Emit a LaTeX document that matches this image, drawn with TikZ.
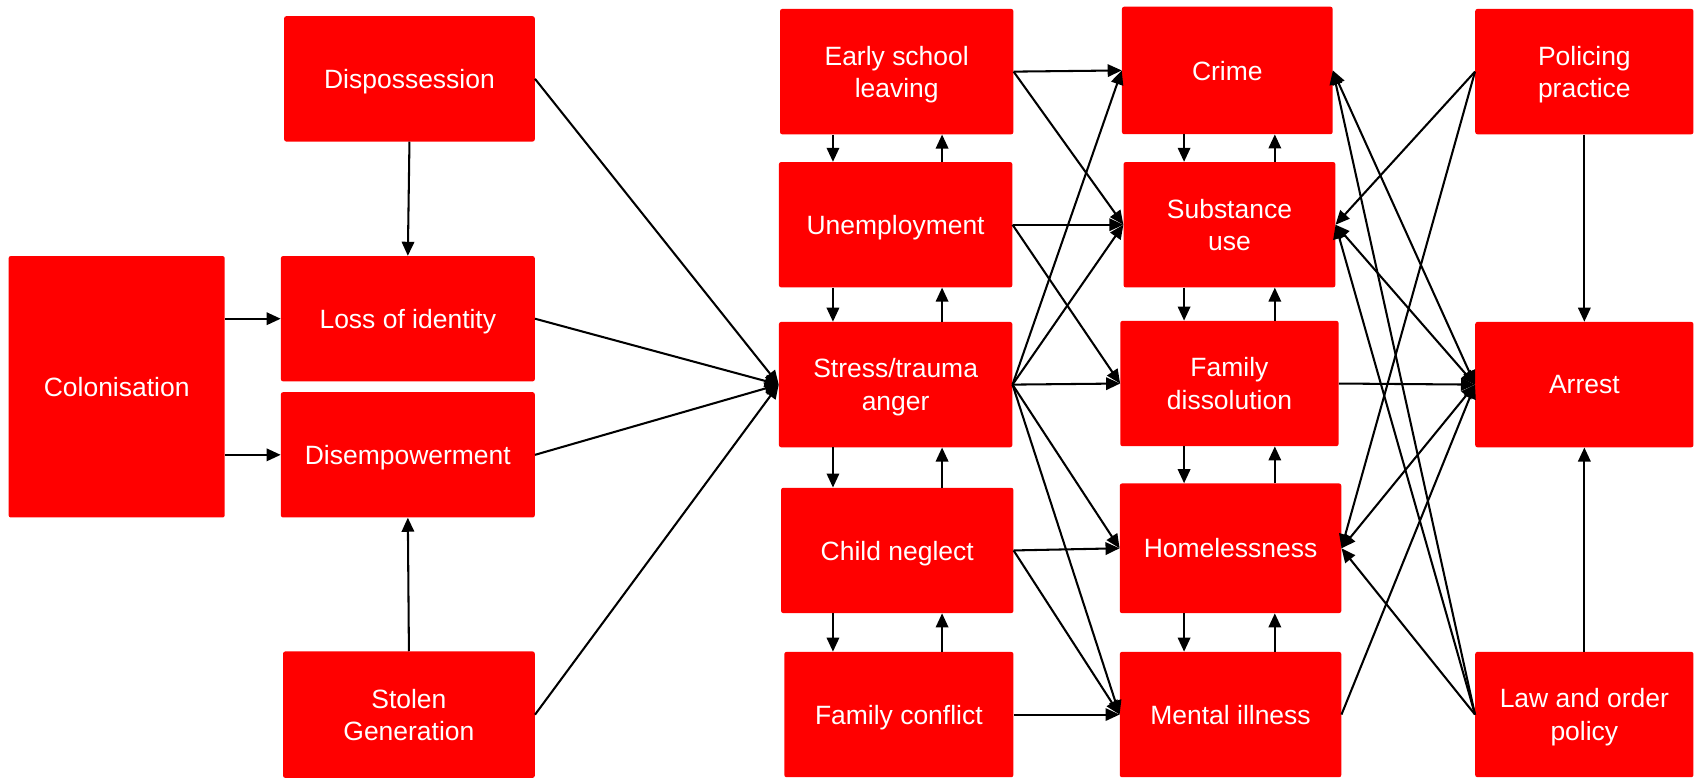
\documentclass[tikz,border=0pt]{standalone}
\usepackage{fontspec}
\setmainfont{Liberation Sans}
\usetikzlibrary{arrows.meta,calc}

\begin{document}
\begin{tikzpicture}[x=1pt,y=-1pt,
  box/.style={fill=red, draw=none, rounded corners=2pt, inner sep=0pt,
    text=white, align=center, text depth=0pt,
    font=\fontsize{24.5pt}{30pt}\selectfont},
  arr/.style={-{Triangle[length=13pt,width=11.5pt]}, line width=1.9pt},
  darr/.style={{Triangle[length=13pt,width=11.5pt]}-{Triangle[length=13pt,width=11.5pt]}, line width=1.9pt}]

\useasboundingbox (0,0) rectangle (1568,720);

% historical causes
\node[box, minimum width=200pt, minimum height=242pt] (colon) at (108,358) {Colonisation};
\node[box, minimum width=232pt, minimum height=116pt] (disp) at (379,73) {Dispossession};
\node[box, minimum width=235pt, minimum height=116pt] (loss) at (377.5,295) {Loss of identity};
\node[box, minimum width=235pt, minimum height=116pt] (disemp) at (377.5,421) {Disempowerment};
\node[box, minimum width=233pt, minimum height=117pt] (stolen) at (378.5,661.5) {Stolen\\Generation};

% social conditions
\node[box, minimum width=216pt, minimum height=116pt] (early) at (830,66.3) {Early school\\leaving};
\node[box, minimum width=216pt, minimum height=116pt] (unemp) at (829,208) {Unemployment};
\node[box, minimum width=216pt, minimum height=116pt] (stress) at (829,356) {Stress/trauma\\anger};
\node[box, minimum width=215pt, minimum height=116pt] (child) at (830.5,509.5) {Child neglect};
\node[box, minimum width=212pt, minimum height=116pt] (conflict) at (832,661.4) {Family conflict};

% outcomes
\node[box, minimum width=195pt, minimum height=118pt] (crime) at (1136,65.2) {Crime};
\node[box, minimum width=196pt, minimum height=116pt] (subst) at (1138,208) {Substance\\use};
\node[box, minimum width=202pt, minimum height=116pt] (famdis) at (1138,355) {Family\\dissolution};
\node[box, minimum width=205pt, minimum height=120pt] (homeless) at (1139,507.5) {Homelessness};
\node[box, minimum width=205pt, minimum height=116pt] (mental) at (1139,661.4) {Mental illness};

% justice system
\node[box, minimum width=202pt, minimum height=116pt] (policing) at (1466.5,66.3) {Policing\\practice};
\node[box, minimum width=202pt, minimum height=116pt] (arrest) at (1466.5,356) {Arrest};
\node[box, minimum width=202pt, minimum height=116pt] (law) at (1466.5,661.4) {Law and order\\policy};

% x positions of the two-way vertical links
\coordinate (cdown) at (771,0);
\coordinate (cup) at (872,0);
\coordinate (odown) at (1096,0);
\coordinate (oup) at (1180,0);

% left block
\draw[arr] (colon.east |- loss.west) -- (loss.west);
\draw[arr] (colon.east |- disemp.west) -- (disemp.west);
\draw[arr] (disp.south) -- (loss.north);
\draw[arr] (stolen.north) -- (disemp.south);
\draw[arr] (disp.east) -- (stress.west);
\draw[arr] (loss.east) -- (stress.west);
\draw[arr] (disemp.east) -- (stress.west);
\draw[arr] (stolen.east) -- (stress.west);

% two-way links down the social conditions column
\foreach \a/\b in {early/unemp, unemp/stress, stress/child, child/conflict}{
  \draw[arr] (cdown |- \a.south) -- (cdown |- \b.north);
  \draw[arr] (cup |- \b.north) -- (cup |- \a.south);
}

% two-way links down the outcomes column
\foreach \a/\b in {crime/subst, subst/famdis, famdis/homeless, homeless/mental}{
  \draw[arr] (odown |- \a.south) -- (odown |- \b.north);
  \draw[arr] (oup |- \b.north) -- (oup |- \a.south);
}

% conditions to outcomes
\draw[arr] (early.east) -- (crime.west);
\draw[arr] (early.east) -- (subst.west);
\draw[arr] (unemp.east) -- (subst.west);
\draw[arr] (unemp.east) -- (famdis.west);
\draw[arr] (stress.east) -- (crime.west);
\draw[arr] (stress.east) -- (subst.west);
\draw[arr] (stress.east) -- (famdis.west);
\draw[arr] (stress.east) -- (homeless.west);
\draw[arr] (stress.east) -- (mental.west);
\draw[arr] (child.east) -- (homeless.west);
\draw[arr] (child.east) -- (mental.west);
\draw[arr] (conflict.east) -- (mental.west);

% justice system links
\draw[arr] (policing.south) -- (arrest.north);
\draw[arr] (law.north) -- (arrest.south);
\draw[arr] (policing.west) -- (subst.east);
\draw[arr] (policing.west) -- (homeless.east);
\draw[arr] (law.west) -- (crime.east);
\draw[arr] (law.west) -- (subst.east);
\draw[arr] (law.west) -- (homeless.east);
\draw[darr] (crime.east) -- (arrest.west);
\draw[darr] (subst.east) -- (arrest.west);
\draw[arr] (famdis.east) -- (arrest.west);
\draw[darr] (homeless.east) -- (arrest.west);
\draw[arr] (mental.east) -- (arrest.west);

\end{tikzpicture}
\end{document}
